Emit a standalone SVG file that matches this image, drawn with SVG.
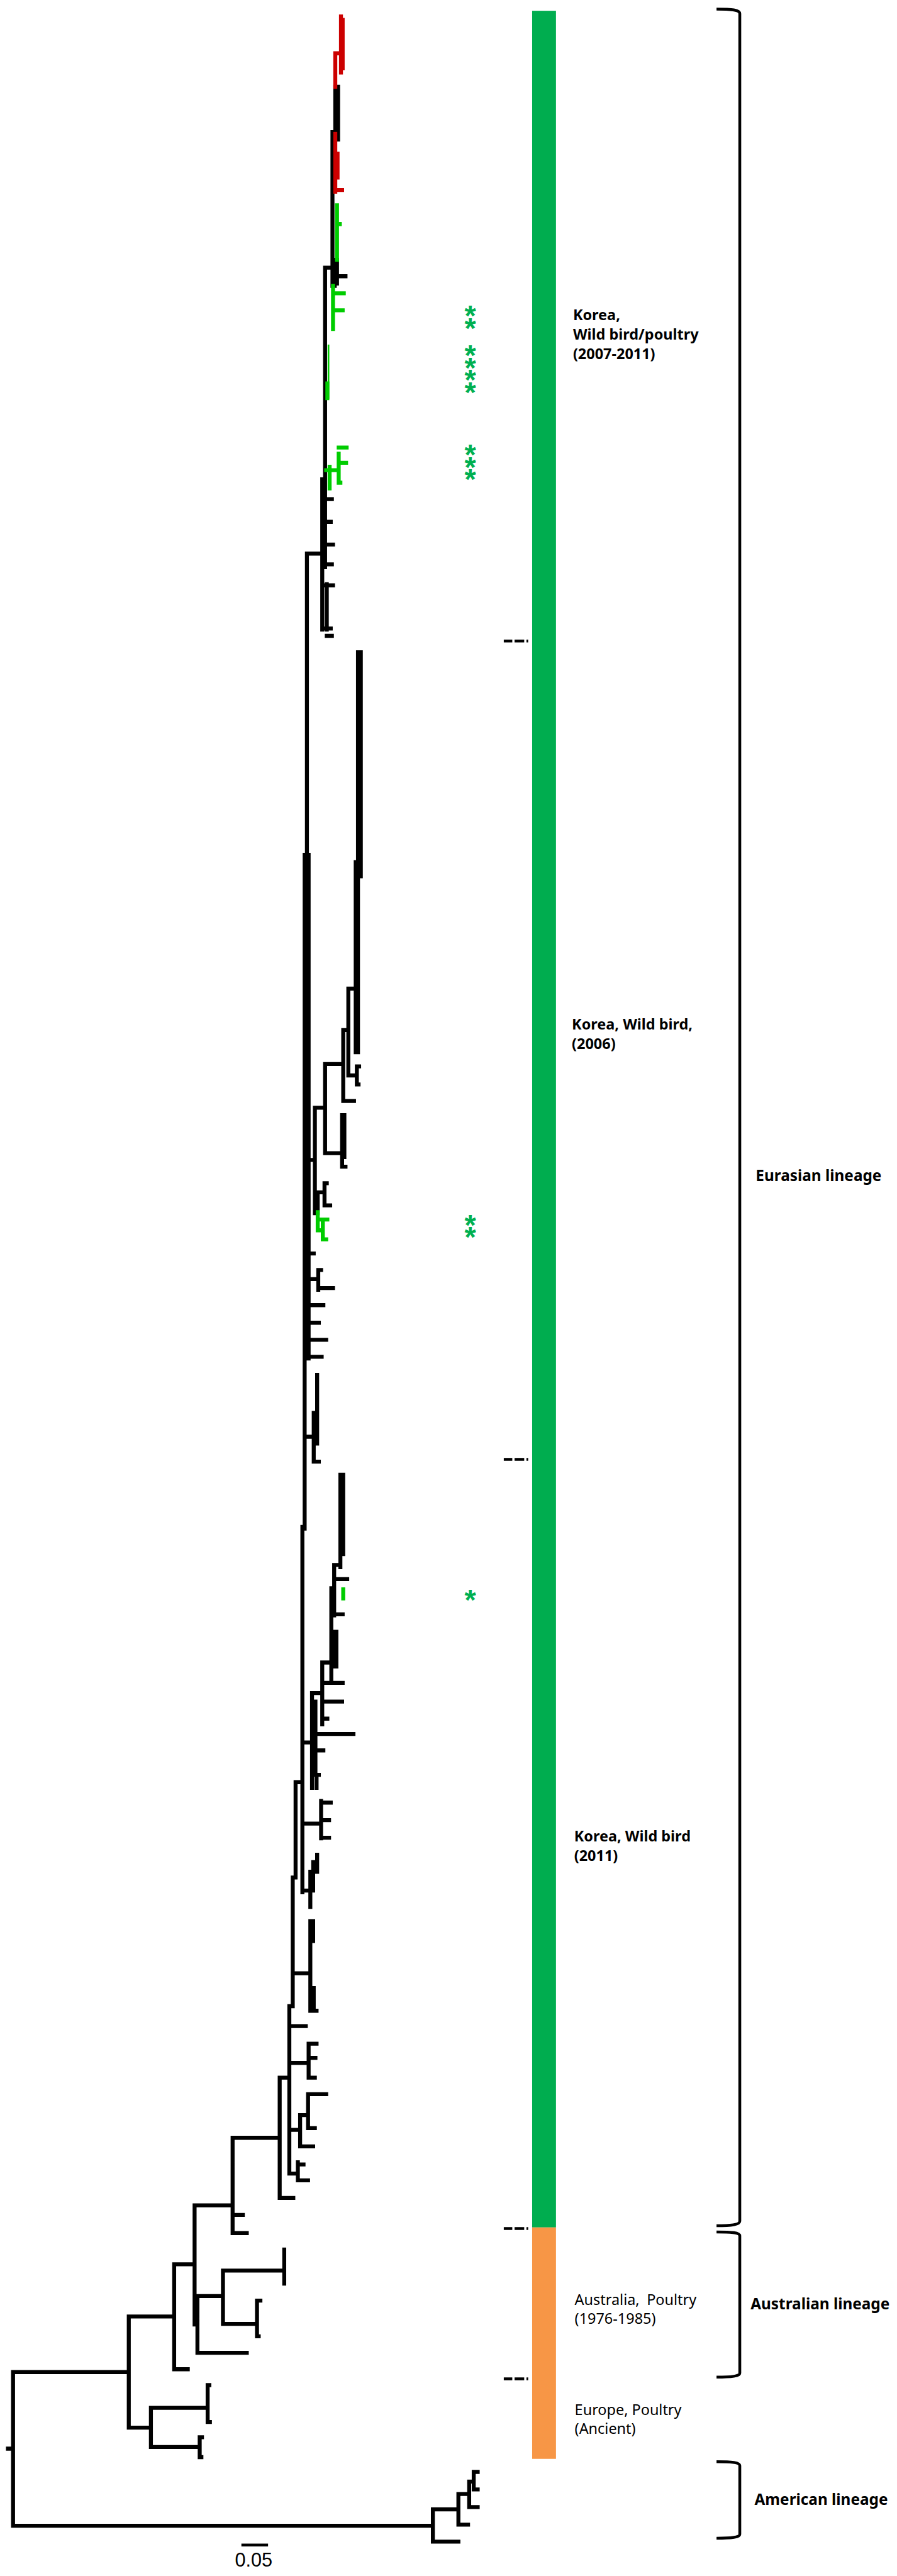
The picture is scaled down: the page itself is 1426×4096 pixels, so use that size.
<svg xmlns="http://www.w3.org/2000/svg" width="1426" height="4096" viewBox="0 0 1426 4096">
<style>
.br{fill:none;stroke:#000;stroke-width:7;stroke-linecap:square}
.red{fill:none;stroke:#CC0000;stroke-width:7;stroke-linecap:square}
.grn{fill:none;stroke:#00CC00;stroke-width:7;stroke-linecap:square}
.thin{stroke-width:3}
.brk{fill:none;stroke:#000;stroke-width:5}
.dash{fill:none;stroke:#000;stroke-width:5;stroke-dasharray:15 4 17 4 3 100}
.lb{font-family:'Noto Sans','Open Sans','DejaVu Sans',sans-serif;font-size:26px;font-weight:bold;fill:#000}
.lr{font-family:'Noto Sans','Open Sans','DejaVu Sans',sans-serif;font-size:26px;fill:#000}
.ln{font-family:'Noto Sans','Open Sans','DejaVu Sans',sans-serif;font-size:27px;font-weight:bold;fill:#000}
.ast{font-family:'Liberation Sans',Arial,sans-serif;font-size:52px;font-weight:bold;fill:#00B050;writing-mode:vertical-rl;text-orientation:upright;letter-spacing:-36px}
.sc{font-family:'Liberation Sans',Arial,sans-serif;font-size:34px;fill:#000}
</style>
<rect width="1426" height="4096" fill="#fff"/>
<g transform="scale(0.9019)">
<g id="tree">
<path class="br" d="M14 4317H23 M23 4182V4453 M23 4182H227 M23 4453H763
M763 4424V4481 M763 4481H808 M763 4424H808 M808 4397V4451 M808 4451H825 M808 4397H827 M827 4375V4420 M827 4420H842 M827 4375H835 M835 4358V4389 M835 4358H842 M835 4389H842
M227 4084V4280 M227 4280H266 M266 4245V4314 M266 4245H366 M366 4205V4270 M366 4205H369 M366 4270H370 M266 4314H352 M352 4297V4332 M352 4297H356 M352 4332H355
M227 4084H307 M307 3992V4177 M307 4177H331 M307 3992H343 M343 3888V4098 M343 4098H348 M348 4048V4148 M348 4148H435 M348 4048H393 M393 4003V4097 M393 4003H501 M501 3966V4026 M393 4097H453 M453 4056V4119 M453 4119H456 M453 4056H459
M343 3888H410 M410 3769V3937 M410 3937H435 M410 3905H428 M410 3769H493
M493 3663V3875 M493 3875H517 M493 3663H510 M510 3537V3832 M510 3832H525 M525 3812V3844 M525 3816H535 M525 3844H543
M510 3755H529 M529 3729V3784 M529 3784H552 M529 3729H543 M543 3692V3752 M543 3692H575 M543 3752H555
M510 3637H544 M544 3603V3663 M544 3663H555 M544 3603H558 M544 3628H556
M510 3572H539
M510 3537H516 M516 3310V3537 M516 3479H545 M547 3387V3545 M552 3387V3422 M553 3505V3545 M553 3545H558
M516 3310H521 M521 3142V3310 M521 3142H533
M533 2692V3336 M533 3333H545 M547 3300V3362 M552 3283V3333 M559 3270V3300
M533 3215H566 M566 3175V3241 M566 3178H583 M566 3209H580 M566 3240H580
M533 3072H550 M550 2985V3152 M556 3000V3129 M550 3057H623 M556 3086H570 M556 3129H562 M558 3129V3152
M550 2985H568 M568 2931V3040 M568 2967H604 M568 3000H603 M568 3030H577
M568 2931H584 M584 2800V2960 M584 2846H604 M588 2877V2938 M593 2877V2938
M584 2800H589 M589 2759V2848 M589 2784H612 M589 2759H600 M600 2600V2763 M605 2600V2740
M537 1507V2695 M533 2692H537 M541 976V1507 M544 1507V2395 M537 1507H544 M541 976H568
M541 2210H553 M541 2255H561 M561 2239V2274 M561 2239H566 M561 2271H587 M541 2301H570 M541 2332H562 M541 2362H575 M541 2392H567
M537 2533H551 M553 2491V2577 M559 2424V2545 M553 2577H562
M544 2045H555 M555 1953V2139 M555 1953H573 M573 1876V2033 M573 1876H605 M605 1816V1941 M605 1941H624 M605 1816H614 M614 1743V1896 M614 1896H629 M629 1880V1912 M629 1880H633 M629 1912H632 M614 1743H627
M631 1150V1855 M636 1150V1545 M627 1520V1855
M573 2033H603 M603 1966V2057 M607 1966V2040 M603 2057H609
M555 2139H560 M560 2102V2139 M560 2102H572 M572 2086V2125 M572 2125H582 M572 2086H576
M568 845V1110 M573 472V1000 M573 880H585 M573 920H583 M573 960H587 M573 995H585 M568 1032H587 M576 1030V1110 M568 1108H583 M576 1121H585
M573 472H586 M586 233V504 M591 153V246 M596 153V246 M586 487H609 M590 458V504 M594 458V500"/>
<path class="red" d="M601 29V128 M604 35V120 M591 94V153 M591 94H602 M591 236V338 M595 271V313 M591 335H603"/>
<path class="grn" d="M594 362V458 M594 395H599 M587 504V580 M587 517H606 M587 547H604 M577 676V702 M575 829H597 M581 823V861 M597 800V851 M597 789H611 M597 816H610 M597 851H600
M560 2137V2169 M560 2150H577 M560 2169H569 M569 2155V2185 M569 2185H575 M605 2802V2818"/>
<path class="grn thin" d="M579 609V702"/>
<path class="br" d="M428 4487H470" style="stroke-width:5"/>
<text class="sc" x="414" y="4525">0.05</text>
</g>
<g id="markers">
<text class="ast" x="829" y="528">**</text>
<text class="ast" x="829" y="598">****</text>
<text class="ast" x="829" y="773">***</text>
<text class="ast" x="829" y="2131">**</text>
<text class="ast" x="829" y="2792">*</text>
</g>
<g id="dividers">
<path class="dash" d="M888 1130H931 M888 2573H931 M888 3929H931 M888 4194H931"/>
</g>
<g id="color-bar">
<rect x="938" y="19" width="42" height="3908" fill="#00AD4F"/>
<rect x="938" y="3927" width="42" height="408" fill="#F79646"/>
</g>
<g id="group-labels">
<text class="lb"><tspan x="1010" y="564">Korea,</tspan><tspan x="1010" y="599">Wild bird/poultry</tspan><tspan x="1010" y="633">(2007-2011)</tspan></text>
<text class="lb"><tspan x="1008" y="1815">Korea, Wild bird,</tspan><tspan x="1008" y="1849">(2006)</tspan></text>
<text class="lb"><tspan x="1012" y="3246">Korea, Wild bird</tspan><tspan x="1012" y="3281">(2011)</tspan></text>
<text class="lr"><tspan x="1013" y="4064" word-spacing="6">Australia, Poultry</tspan><tspan x="1013" y="4097">(1976-1985)</tspan></text>
<text class="lr"><tspan x="1013" y="4258">Europe, Poultry</tspan><tspan x="1013" y="4291">(Ancient)</tspan></text>
</g>
<g id="brackets">
<path class="brk" d="M1263 16C1290 16 1304 17 1304 24V3916C1304 3922 1290 3924 1263 3924"/>
<path class="brk" d="M1263 3935C1290 3935 1304 3936 1304 3942V4184C1304 4189 1290 4191 1263 4191"/>
<path class="brk" d="M1263 4340C1290 4340 1304 4341 1304 4347V4468C1304 4473 1290 4475 1263 4475"/>
<text class="ln" x="1332" y="2082">Eurasian lineage</text>
<text class="ln" x="1323" y="4071">Australian lineage</text>
<text class="ln" x="1330" y="4416">American lineage</text>
</g>
</g>
</svg>
